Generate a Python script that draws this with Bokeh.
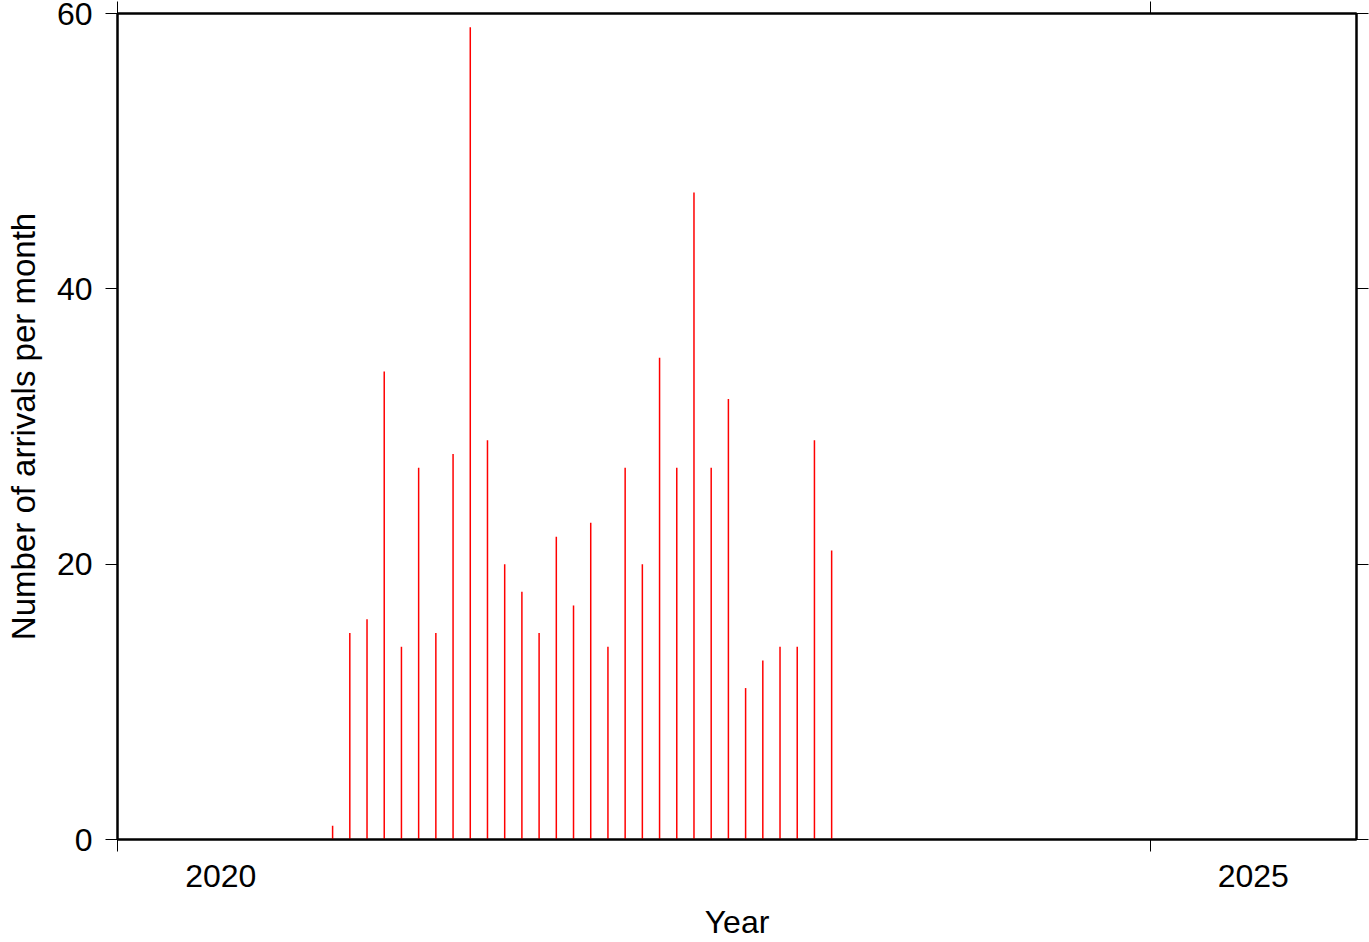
from bokeh.plotting import figure
from bokeh.models import LinearAxis, FixedTicker, Range1d, CustomJSTickFormatter, ColumnDataSource
from bokeh.embed import file_html
from bokeh.resources import INLINE

# ---- data (monthly arrival counts) ----
months = ["2021-01", "2021-02", "2021-03", "2021-04", "2021-05", "2021-06",
          "2021-07", "2021-08", "2021-09", "2021-10", "2021-11", "2021-12",
          "2022-01", "2022-02", "2022-03", "2022-04", "2022-05", "2022-06",
          "2022-07", "2022-08", "2022-09", "2022-10", "2022-11", "2022-12",
          "2023-01", "2023-02", "2023-03", "2023-04", "2023-05", "2023-06"]
counts = [1, 15, 16, 34, 14, 27, 15, 28, 59, 29, 20, 18,
          15, 22, 17, 23, 14, 27, 20, 35, 27, 47, 27, 32,
          11, 13, 14, 14, 29, 21]
year_ticks = [2020, 2025]
year_label_pos = [2020.5, 2025.5]
y_ticks = [0, 20, 40, 60]

FONT = "Liberation Sans"

x = [int(m[:4]) + (int(m[5:]) - 0.5) / 12.0 for m in months]
src = ColumnDataSource(dict(x=x, y0=[0] * len(x), y=counts))

p = figure(width=1369, height=942,
           x_range=Range1d(2020, 2026), y_range=Range1d(0, 60),
           output_backend="svg", toolbar_location=None,
           x_axis_location=None, y_axis_location=None,
           min_border_left=117, min_border_right=13,
           min_border_top=13, min_border_bottom=103,
           outline_line_color="black", outline_line_width=2,
           background_fill_color="white", border_fill_color="white")
for g in p.grid:
    g.visible = False

p.segment(x0="x", y0="y0", x1="x", y1="y", source=src,
          line_color="red", line_width=1.5)


def tick_only_axis(ticks):
    return LinearAxis(ticker=FixedTicker(ticks=ticks),
                      formatter=CustomJSTickFormatter(code="return '';"),
                      major_tick_out=12, major_tick_in=0,
                      minor_tick_out=0, minor_tick_in=0,
                      major_tick_line_color="black", major_tick_line_width=1,
                      axis_line_color="black", axis_line_width=2,
                      major_label_text_font_size="1px",
                      major_label_text_color=None,
                      major_label_standoff=0)


# left axis with labels
left = LinearAxis(ticker=FixedTicker(ticks=y_ticks),
                  major_tick_out=12, major_tick_in=0,
                  minor_tick_out=0, minor_tick_in=0,
                  major_tick_line_color="black", major_tick_line_width=1,
                  axis_line_color="black", axis_line_width=2,
                  major_label_text_font=FONT, major_label_text_font_size="32px",
                  major_label_text_color="black", major_label_standoff=13,
                  axis_label="Number of arrivals per month",
                  axis_label_text_font=FONT, axis_label_text_font_size="33px",
                  axis_label_text_font_style="normal", axis_label_text_color="black",
                  axis_label_standoff=12)
p.add_layout(left, "left")

# right axis: ticks only
p.add_layout(tick_only_axis(y_ticks), "right")

# top axis: ticks only
p.add_layout(tick_only_axis(year_ticks), "above")

# bottom: ticks at year boundaries, labels centred within the year
p.add_layout(tick_only_axis(year_ticks), "below")
bottom_labels = LinearAxis(ticker=FixedTicker(ticks=year_label_pos),
                           formatter=CustomJSTickFormatter(code="return String(Math.floor(tick));"),
                           major_tick_out=0, major_tick_in=0,
                           minor_tick_out=0, minor_tick_in=0,
                           axis_line_color=None,
                           major_label_text_font=FONT, major_label_text_font_size="32px",
                           major_label_text_color="black", major_label_standoff=13,
                           axis_label="Year",
                           axis_label_text_font=FONT, axis_label_text_font_size="32px",
                           axis_label_text_font_style="normal", axis_label_text_color="black",
                           axis_label_standoff=14)
p.add_layout(bottom_labels, "below")

open("out.html", "w").write(file_html(p, INLINE))
